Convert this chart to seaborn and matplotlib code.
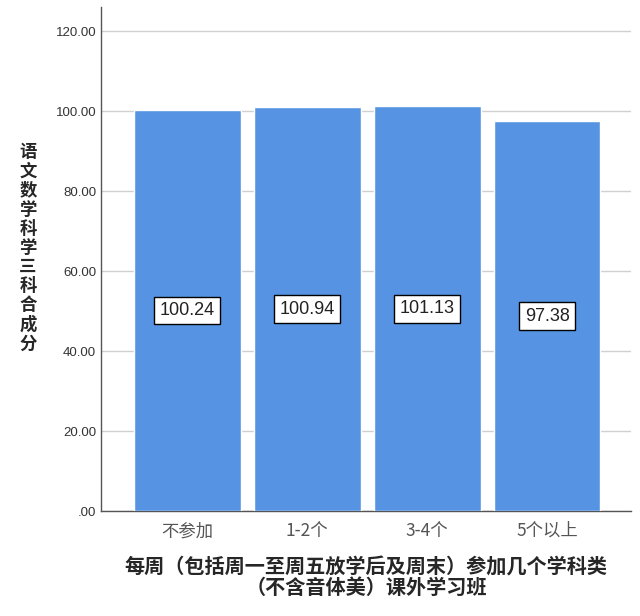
import pandas as pd
import seaborn as sns
import matplotlib.pyplot as plt
import numpy as np

categories = ['不参加', '1-2个', '3-4个', '5个以上']
scores = [100.24, 100.94, 101.13, 97.38]
yticks = [0, 20, 40, 60, 80, 100, 120]
ytick_labels = ['.00', '20.00', '40.00', '60.00', '80.00', '100.00', '120.00']

df = pd.DataFrame({'group': categories, 'score': scores})

sns.set_style('white')
plt.rcParams['font.family'] = ['Liberation Sans', 'Noto Sans CJK SC', 'DejaVu Sans']

fig = plt.figure(figsize=(6.4, 6.16), dpi=100)
ax = fig.add_axes([101 / 640, 1 - 511 / 616, 530 / 640, 504 / 616])

sns.barplot(data=df, x='group', y='score', color='#5694E3', width=0.89,
            saturation=1, ax=ax, zorder=3)

for p, v in zip(ax.patches, scores):
    ax.text(p.get_x() + p.get_width() / 2, v / 2, f'{v:.2f}', ha='center', va='center',
            fontsize=13, color='#222222', zorder=4,
            bbox=dict(boxstyle='square,pad=0.3', fc='white', ec='black', lw=1))

ax.set_ylim(0, 126)
ax.set_xlim(-0.72, 3.7)
ax.set_yticks(yticks)
ax.set_yticklabels(ytick_labels)
ax.yaxis.grid(True, color='#d0d0d0', lw=1, zorder=0)
ax.tick_params(axis='both', length=0, colors='#333333', labelsize=9.5)
ax.tick_params(axis='x', labelsize=12.5, colors='#555555', pad=8)
for lab in ax.get_xticklabels():
    lab.set_family(['Noto Sans CJK SC'])
for side in ['top', 'right']:
    ax.spines[side].set_visible(False)
for side in ['left', 'bottom']:
    ax.spines[side].set_color('#555555')
    ax.spines[side].set_linewidth(1)

ax.set_ylabel('')
ax.set_xlabel('每周（包括周一至周五放学后及周末）参加几个学科类\n（不含音体美）课外学习班',
              fontsize=14.5, fontweight='bold', family=['Noto Sans CJK SC'],
              linespacing=0.95, labelpad=12)

fig.text(28 / 640, 1 - 248 / 616, '\n'.join('语文数学科学三科合成分'),
         ha='center', va='center', fontsize=12.5, fontweight='bold',
         family=['Noto Sans CJK SC'], linespacing=1.08)

fig.savefig('out.png', dpi=100)
